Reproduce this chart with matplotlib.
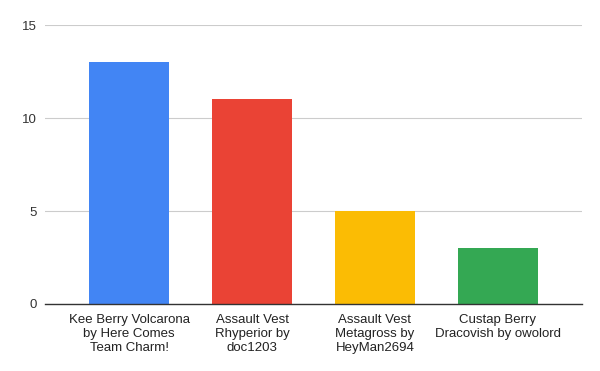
import matplotlib
matplotlib.use("Agg")
import matplotlib.pyplot as plt

plt.rcParams['font.family'] = ['Liberation Sans', 'DejaVu Sans']

# Data
labels = [
    "Kee Berry Volcarona\nby Here Comes\nTeam Charm!",
    "Assault Vest\nRhyperior by\ndoc1203",
    "Assault Vest\nMetagross by\nHeyMan2694",
    "Custap Berry\nDracovish by owolord",
]
values = [13, 11, 5, 3]
colors = ["#4285F4", "#EA4335", "#FBBC04", "#34A853"]

fig = plt.figure(figsize=(6, 3.71), dpi=100)
ax = fig.add_axes([0.075, 0.1806, 0.895, 0.752])

x = list(range(len(values)))
ax.bar(x, values, width=0.65, color=colors, zorder=3)

ax.set_xlim(-0.683, 3.683)
ax.set_ylim(0, 15)
ax.set_yticks([0, 5, 10, 15])
ax.set_xticks(x)
ax.set_xticklabels(labels, fontsize=9.5, color="#222222", linespacing=1.22)
ax.tick_params(axis="y", labelsize=9.5, labelcolor="#333333", length=0, pad=6)
ax.tick_params(axis="x", length=0, pad=7)

ax.grid(axis="y", color="#cccccc", linewidth=0.8, zorder=0)
for s in ["top", "right", "left"]:
    ax.spines[s].set_visible(False)
ax.spines["bottom"].set_color("#333333")
ax.spines["bottom"].set_linewidth(1)
ax.spines["bottom"].set_zorder(4)

fig.savefig("out.png", dpi=100)
